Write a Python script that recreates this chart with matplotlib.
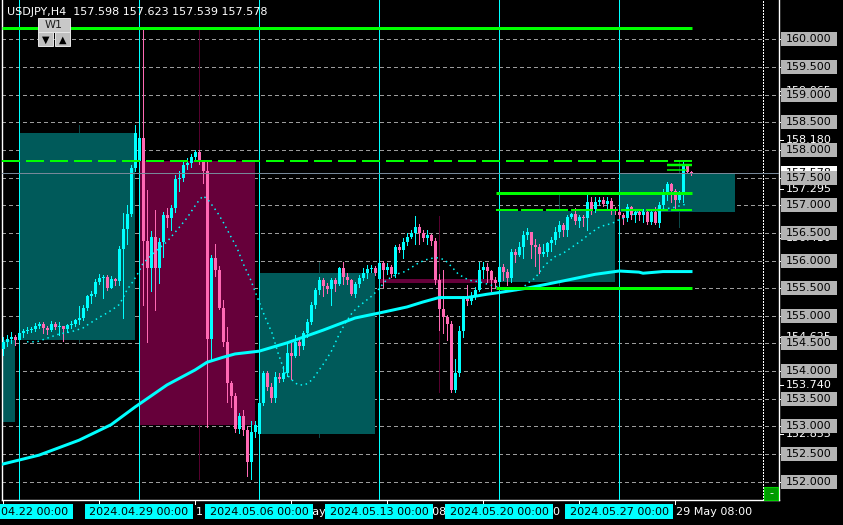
import numpy as np
import matplotlib
matplotlib.use('Agg')
import matplotlib.pyplot as plt
from matplotlib.patches import Rectangle
from matplotlib.lines import Line2D

# USDJPY H4 chart, bar index 0 = 2024.04.22 00:00
symbol_text = 'USDJPY,H4  157.598 157.623 157.539 157.578'

first_bar = -4
first_open = 154.40
closes = [154.53, 154.58, 154.62, 154.56,
          154.68, 154.72, 154.74, 154.76, 154.82, 154.85, 154.78, 154.75, 154.86, 154.80,
          154.81, 154.76, 154.84, 154.85, 154.92, 154.96, 155.15, 155.35, 155.39, 155.61,
          155.69, 155.71, 155.51, 155.66, 155.63, 156.21, 156.57, 156.84, 157.68, 158.31,
          158.21, 156.35, 155.86, 156.42, 155.86, 156.34, 156.82, 156.76, 156.95, 157.47,
          157.50, 157.72, 157.76, 157.88, 157.97, 157.79, 157.62, 154.58, 156.04, 155.83,
          155.14, 154.53, 153.78, 153.55, 152.95, 153.18, 152.93, 152.35, 152.90, 153.02,
          153.42, 153.96, 153.71, 153.51, 153.90, 153.85, 153.96, 154.32, 154.28, 154.52,
          154.45, 154.69, 154.89, 155.19, 155.47, 155.64, 155.54, 155.48, 155.65, 155.58,
          155.86, 155.71, 155.65, 155.40, 155.58, 155.68, 155.78, 155.84, 155.86, 155.78,
          155.96, 155.82, 155.88, 155.76, 156.25, 156.19, 156.33, 156.43, 156.49, 156.61,
          156.49, 156.40, 156.46, 156.36, 155.65, 155.12, 154.98, 154.86, 153.66, 153.96,
          154.73, 155.33, 155.27, 155.34, 155.47, 155.83, 155.89, 155.81, 155.64, 155.59,
          155.89, 155.79, 155.68, 156.16, 156.10, 156.25, 156.46, 156.51, 156.28, 156.24,
          156.11, 156.16, 156.31, 156.37, 156.51, 156.64, 156.55, 156.79, 156.84, 156.71,
          156.79, 156.77, 157.06, 156.93, 157.06, 157.09, 157.02, 157.08, 156.91, 156.90,
          156.83, 156.76, 156.97, 156.82, 156.88, 156.82, 156.88, 156.70, 156.88, 156.67,
          157.00, 157.23, 157.38, 157.26, 157.09, 157.20, 157.73, 157.60, 157.578]
highs = [154.62, 154.66, 154.70, 154.66,
         154.72, 154.76, 154.79, 154.80, 154.87, 154.88, 154.88, 154.81, 154.90, 154.88,
         154.88, 154.82, 154.86, 154.90, 154.95, 155.18, 155.20, 155.38, 155.45, 155.66,
         155.75, 155.74, 155.73, 155.72, 155.69, 156.27, 156.86, 157.00, 157.72, 158.45,
         158.40, 160.17, 157.28, 156.54, 156.91, 156.40, 156.88, 156.95, 157.00, 157.55,
         157.62, 157.82, 157.86, 157.92, 158.00, 158.00, 157.82, 157.80, 156.10, 156.30,
         155.90, 155.29, 154.80, 153.82, 153.60, 153.25, 153.30, 153.00, 153.10, 153.10,
         153.50, 154.00, 154.00, 153.78, 153.98, 153.96, 154.10, 154.50, 154.50, 154.66,
         154.58, 154.72, 154.95, 155.25, 155.50, 155.70, 155.68, 155.60, 155.68, 155.68,
         155.88, 155.98, 155.78, 155.66, 155.62, 155.74, 155.86, 155.92, 155.92, 155.90,
         156.00, 156.00, 155.96, 155.92, 156.28, 156.30, 156.40, 156.50, 156.55, 156.80,
         156.66, 156.55, 156.56, 156.48, 156.40, 155.75, 155.83, 155.02, 154.90, 154.22,
         154.82, 155.35, 155.55, 155.43, 155.52, 155.98, 155.98, 155.96, 155.83, 155.70,
         155.95, 155.94, 155.84, 156.20, 156.20, 156.34, 156.53, 156.58, 156.52, 156.38,
         156.30, 156.30, 156.33, 156.42, 156.60, 156.72, 156.68, 156.82, 156.86, 156.95,
         156.82, 156.82, 157.18, 157.15, 157.15, 157.15, 157.15, 157.15, 157.13, 156.97,
         156.92, 156.86, 157.02, 156.99, 156.92, 156.94, 156.93, 156.92, 156.93, 156.97,
         157.05, 157.30, 157.42, 157.40, 157.30, 157.25, 157.78, 157.74, 157.623]
lows = [154.30, 154.45, 154.50, 154.48,
        154.52, 154.62, 154.68, 154.70, 154.73, 154.78, 154.69, 154.67, 154.72, 154.77,
        154.66, 154.54, 154.70, 154.78, 154.82, 154.85, 154.92, 155.10, 155.24, 155.36,
        155.58, 155.33, 155.47, 155.50, 155.55, 155.55, 154.96, 156.30, 156.80, 157.62,
        157.70, 155.20, 154.52, 155.44, 155.10, 155.59, 156.07, 156.60, 156.55, 156.88,
        157.25, 157.44, 157.65, 157.70, 157.83, 157.75, 157.40, 152.99, 154.20, 155.72,
        155.12, 154.45, 153.45, 153.35, 152.90, 152.88, 152.85, 152.10, 152.05, 152.80,
        152.80, 153.38, 153.65, 153.45, 153.45, 153.80, 153.83, 153.92, 153.85, 154.25,
        154.30, 154.40, 154.62, 154.85, 155.15, 155.40, 155.35, 155.42, 155.20, 155.45,
        155.56, 155.58, 155.58, 155.38, 155.34, 155.52, 155.64, 155.68, 155.80, 155.74,
        155.60, 155.52, 155.76, 155.70, 155.70, 156.15, 156.05, 156.28, 156.40, 156.30,
        156.30, 156.35, 156.30, 156.28, 155.58, 154.75, 154.69, 154.57, 153.62, 153.62,
        153.92, 154.62, 155.20, 155.22, 155.30, 155.44, 155.68, 155.62, 155.44, 155.50,
        155.55, 155.64, 155.55, 155.62, 155.98, 156.08, 156.05, 156.38, 156.05, 155.90,
        155.78, 156.08, 156.08, 156.18, 156.30, 156.42, 156.45, 156.45, 156.76, 156.66,
        156.60, 156.62, 156.56, 156.85, 156.88, 157.00, 156.98, 156.93, 156.85, 156.84,
        156.76, 156.66, 156.72, 156.75, 156.70, 156.74, 156.70, 156.66, 156.66, 156.66,
        156.61, 156.95, 157.10, 157.06, 156.95, 157.05, 157.05, 157.58, 157.539]

# weekly boxes (first bar index of each week and the week's opening price)
week_start = [-30, 0, 30, 60, 90, 120, 150]
week_open = [153.08, 154.56, 157.80, 152.86, 155.66, 155.61, 156.88]
sep_labels = ['2024.04.22 00:00', '2024.04.29 00:00', '2024.05.06 00:00',
              '2024.05.13 00:00', '2024.05.20 00:00', '2024.05.27 00:00']

tick_bars = [-4, 20, 44, 68, 92, 116, 140, 164]
tick_labels = ['', '25 Apr 08:00', '1 May 08:00', '7 May 08:00', '13 May 08:00',
               '17 May 08:00', '23 May 08:00', '29 May 08:00']

# slow moving average (thick)
ma_x = [-4, 5, 15, 23, 29, 37, 44, 47, 51, 54, 60, 67, 76, 84, 90, 97, 101, 105,
        112, 117, 120, 127, 136, 144, 150, 155, 156, 161, 168]
ma_y = [152.32, 152.48, 152.75, 153.03, 153.35, 153.75, 154.02, 154.16, 154.25, 154.31,
        154.36, 154.51, 154.74, 154.96, 155.05, 155.16, 155.25, 155.33, 155.33, 155.39,
        155.42, 155.50, 155.63, 155.75, 155.81, 155.79, 155.77, 155.80, 155.80]

# fast moving average (dotted)
dot_x = [2, 4.5, 8, 10, 13, 16, 17, 20, 22, 23.5, 25, 26, 27, 28.5, 30, 31, 34.5, 37,
         39.5, 42, 44.5, 46, 47.25, 49.5, 51, 52.75, 54.5, 56, 57.75, 59.5, 61.5, 63.25,
         64.75, 66.5, 68.25, 69.75, 71.5, 73.25, 74.75, 76.5, 78.25, 79.75, 81.5, 83.25,
         84.75, 86.5, 88.25, 89.75, 91.5, 93.25, 94.75, 96.5, 98.25, 99.75, 101.5, 103.25,
         104.75, 106.5, 108.25, 109.75, 111.5, 113.25, 114.75, 117.25, 119.75, 120.75,
         122.25, 125.25, 127.75, 129, 131.5, 134, 136, 139, 140.75, 142.25, 144.75, 146.5,
         148.25, 149.75, 152.25, 154.75, 157.25, 163.25, 167.25]
dot_y = [154.53, 154.53, 154.62, 154.67, 154.71, 154.78, 154.83, 154.97, 155.05, 155.12,
         155.20, 155.32, 155.47, 155.62, 155.80, 155.95, 156.19, 156.34, 156.55, 156.77,
         157.04, 157.17, 157.10, 156.88, 156.70, 156.46, 156.23, 155.95, 155.68, 155.35,
         154.98, 154.69, 154.33, 153.97, 153.84, 153.75, 153.75, 153.84, 153.99, 154.17,
         154.38, 154.62, 154.86, 155.05, 155.16, 155.26, 155.36, 155.47, 155.62, 155.71,
         155.76, 155.80, 155.88, 155.95, 156.01, 156.04, 156.05, 156.01, 155.88, 155.76,
         155.68, 155.63, 155.62, 155.57, 155.52, 155.47, 155.44, 155.47, 155.62, 155.68,
         155.92, 156.07, 156.13, 156.28, 156.37, 156.46, 156.59, 156.64, 156.67, 156.73,
         156.79, 156.88, 156.91, 156.95, 157.03]

# green horizontal levels
level_price = [160.21, 157.80, 157.22, 156.91, 155.51, 157.73, 157.64]
level_from = [-4.25, -4.25, 119.25, 119.25, 119.25, 162, 162]
level_to = [168.25, 168.25, 168.25, 168.25, 168.25, 168.25, 167]

bid = 157.578
grid_levels = [152.0, 152.5, 153.0, 153.5, 154.0, 154.5, 155.0, 155.5, 156.0,
               156.5, 157.0, 157.5, 158.0, 158.5, 159.0, 159.5, 160.0]
extra_levels = [159.065, 158.180, 157.295, 156.410, 154.625, 153.740, 152.855]

W, H = 843, 525
PX = 0.72  # points per pixel at dpi 100

fig = plt.figure(figsize=(W / 100, H / 100), dpi=100, facecolor='black')
ax = fig.add_axes([2 / W, 25 / H, 777 / W, 500 / H])
ax.set_facecolor('black')
ax.set_xlim(-4.25, 190)
ax.set_ylim(151.669, 160.711)
ax.set_xticks([])
ax.set_yticks([])
for s in ['left', 'bottom', 'right']:
    ax.spines[s].set_color('white')
    ax.spines[s].set_linewidth(1.0)
ax.spines['top'].set_visible(False)

n = len(closes)
idx = np.arange(first_bar, first_bar + n)
c = np.array(closes)
h = np.array(highs)
l = np.array(lows)
o = np.empty(n)
o[0] = first_open
o[1:] = c[:-1]
for ws, wo in zip(week_start, week_open):
    k = ws - first_bar
    if 0 <= k < n:
        o[k] = wo

# grid
for g in grid_levels:
    ax.axhline(g, color='#9c9c9c', lw=PX, dashes=(4, 3), zorder=1, antialiased=False)
ax.axvline(186, color='white', lw=PX, dashes=(2, 2), zorder=1, antialiased=False)

# weekly boxes + high/low lines
for ws, wo in zip(week_start, week_open):
    k0 = max(ws - first_bar, 0)
    k1 = min(ws - first_bar + 29, n - 1)
    wc = c[k1]
    bull = wc >= wo
    fc = '#005a5a' if bull else '#66003a'
    lc = '#0a4848' if bull else '#55002e'
    ax.vlines(ws + 15, l[k0:k1 + 1].min(), h[k0:k1 + 1].max(), colors=lc, lw=PX,
              zorder=1.5, antialiased=False)
    ax.add_patch(Rectangle((ws, min(wo, wc)), 29, max(abs(wc - wo), 0.02),
                           fc=fc, ec='none', zorder=2))

for ws in week_start[1:]:
    ax.axvline(ws, color='#00ffff', lw=PX, zorder=3, antialiased=False)

# candles
col = np.where(c >= o, '#00ffff', '#ff69b4')
ax.vlines(idx, l, h, colors=col, lw=PX, zorder=4, antialiased=False)
ax.bar(idx, np.maximum(np.abs(c - o), 0.02), bottom=np.minimum(o, c), width=0.75,
       color=col, lw=0, zorder=4)

# moving averages
ax.plot(ma_x, ma_y, color='#00ffff', lw=3 * PX, zorder=5)
ax.plot(dot_x, dot_y, color='#00ffff', lw=1.5 * PX, dashes=(1, 2.5), zorder=5)

# green levels
lw_px = [3, 2, 3, 2, 3, 2.5, 1.5]
dash = [None, (9, 3), None, (11, 1.5), None, None, None]
for p, x0, x1, w, d in zip(level_price, level_from, level_to, lw_px, dash):
    kw = {'dashes': d} if d else {}
    ax.plot([x0, x1], [p, p], color='#00ff00', lw=w * PX, zorder=6,
            solid_capstyle='butt', **kw)

ax.axhline(bid, color='#778899', lw=PX, zorder=6, antialiased=False)


def xpx(i):
    return ax.transData.transform((i, 0))[0]


def ypx(p):
    return H - ax.transData.transform((0, p))[1]


def box(x0, y0, x1, y1, z, **kw):
    fig.add_artist(Rectangle((x0 / W, 1 - y1 / H), (x1 - x0) / W, (y1 - y0) / H,
                             transform=fig.transFigure, zorder=z, **kw))


def label(x, y, s, z=3, **kw):
    fig.text(x / W, 1 - y / H, s, fontsize=8, va='center', zorder=z, **kw)


def tick(x0, y0, x1, y1):
    fig.add_artist(Line2D([x0 / W, x1 / W], [1 - y0 / H, 1 - y1 / H], color='white',
                          lw=PX, transform=fig.transFigure, zorder=1.5))


# price scale
for p in extra_levels:
    y = ypx(p)
    tick(779, y, 783, y)
    label(786, y, f'{p:.3f}', z=2, color='white')
yb = ypx(bid)
box(781, yb - 7, 837, yb + 7, 2.2, fc='white', ec='none')
label(786, yb, f'{bid:.3f}', z=2.3, color='black')
for p in grid_levels:
    y = ypx(p)
    tick(779, y, 783, y)
    box(781, y - 7, 837, y + 7, 2.5, fc='#b4b4b4', ec='none')
    label(786, y, f'{p:.3f}', z=3, color='black')

# time scale
for b, t in zip(tick_bars, tick_labels):
    x = xpx(b)
    tick(x, 500, x, 504)
    label(x + 1, 512, t, z=2, color='white')
for ws, t in zip(week_start[1:], sep_labels):
    x = xpx(ws)
    box(x - 54, 504, x + 54, 519, 2.5, fc='#00ffff', ec='none')
    label(x, 512, t, z=3, color='black', ha='center')

# header and buttons
label(7, 12, symbol_text, color='white')
box(38, 18, 70, 32, 4, fc='#c8c8c8', ec='#e8e8e8', lw=0.7)
label(54, 25, 'W1', z=5, color='#202020', ha='center')
box(38, 32, 53, 46, 4, fc='#c0c0c0', ec='#e8e8e8', lw=0.7)
box(55, 32, 70, 46, 4, fc='#c0c0c0', ec='#e8e8e8', lw=0.7)
fig.text(45.5 / W, 1 - 39.5 / H, '▼', fontsize=7, ha='center', va='center', color='black', zorder=5)
fig.text(62.5 / W, 1 - 39.5 / H, '▲', fontsize=7, ha='center', va='center', color='black', zorder=5)
box(764, 487, 778, 500, 4, fc='#009a00', ec='#00d000', lw=0.8)
label(771, 493, '-', z=5, color='white', ha='center')

fig.savefig('out.png', dpi=100, facecolor='black')
